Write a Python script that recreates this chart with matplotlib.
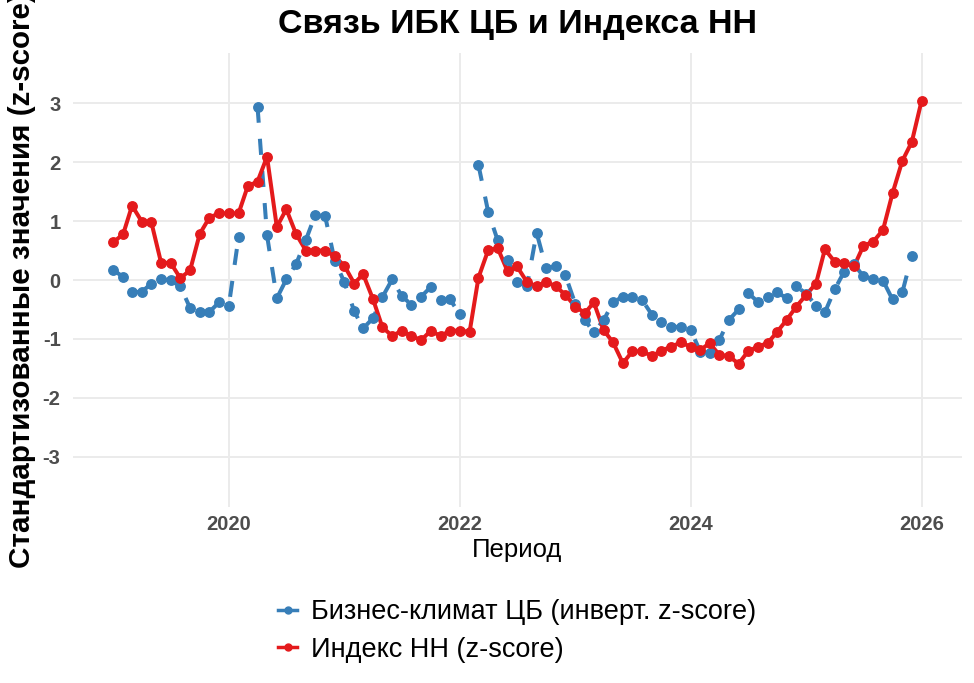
import numpy as np
import pandas as pd
import matplotlib
matplotlib.use("Agg")
import matplotlib.pyplot as plt
import matplotlib.dates as mdates
from matplotlib.lines import Line2D

plt.rcParams['font.family'] = ['Liberation Sans', 'DejaVu Sans']
plt.rcParams['axes.unicode_minus'] = False

# monthly data, Jan 2019 .. Jan 2026
dates = pd.date_range("2019-01-01", periods=85, freq="MS")

nn_index = [
    0.64, 0.78, 1.26, 0.99, 0.98, 0.29, 0.29, 0.03, 0.17, 0.78, 1.06, 1.13,
    1.13, 1.13, 1.59, 1.67, 2.09, 0.90, 1.20, 0.78, 0.50, 0.50, 0.50, 0.40,
    0.24, -0.06, 0.10, -0.32, -0.80, -0.95, -0.86, -0.95, -1.02, -0.86, -0.95, -0.86,
    -0.86, -0.88, 0.04, 0.51, 0.54, 0.15, 0.23, -0.03, -0.11, -0.03, -0.11, -0.25,
    -0.45, -0.56, -0.38, -0.85, -1.06, -1.41, -1.21, -1.21, -1.29, -1.20, -1.13, -1.06,
    -1.13, -1.19, -1.07, -1.27, -1.29, -1.42, -1.21, -1.13, -1.07, -0.88, -0.67, -0.45,
    -0.25, -0.06, 0.52, 0.31, 0.29, 0.23, 0.58, 0.65, 0.85, 1.47, 2.02, 2.34,
    3.04,
]

# business climate (inverted z-score), Jan 2019 .. Dec 2025, gaps = nan
ibk = [
    0.17, 0.05, -0.21, -0.20, -0.06, 0.01, 0.00, -0.11, -0.48, -0.55, -0.54, -0.38,
    -0.44, 0.73, np.nan, 2.94, 0.76, -0.31, 0.01, 0.27, 0.68, 1.11, 1.08, 0.33,
    -0.04, -0.53, -0.82, -0.65, -0.29, 0.01, -0.27, -0.42, -0.28, -0.12, -0.34, -0.33,
    -0.58, np.nan, 1.95, 1.15, 0.67, 0.34, -0.03, -0.11, 0.80, 0.20, 0.24, 0.08,
    -0.40, -0.68, -0.89, -0.68, -0.38, -0.28, -0.29, -0.34, -0.59, -0.72, -0.79, -0.80,
    -0.84, -1.22, -1.23, -1.02, -0.68, -0.50, -0.22, -0.37, -0.29, -0.21, -0.31, -0.11,
    -0.23, -0.44, -0.55, -0.16, 0.14, 0.27, 0.06, 0.02, -0.01, -0.33, -0.21, 0.41,
]

labels = ["Бизнес-климат ЦБ (инверт. z-score)", "Индекс НН (z-score)"]
blue = "#377EB8"
red = "#E41A1C"

W, H = 974, 683
fig = plt.figure(figsize=(W / 100, H / 100), dpi=100)
ax = fig.add_axes([73 / W, 1 - 507 / H, (962 - 73) / W, (507 - 53) / H])

x_nn = mdates.date2num(dates)
x_ibk = x_nn[:len(ibk)]

lw = 2.9
ax.plot(x_ibk, ibk, color=blue, lw=lw, ls=(0, (4, 4)), dash_capstyle='butt', zorder=3)
ax.plot(x_nn, nn_index, color=red, lw=lw, zorder=4)
ax.plot(x_ibk, ibk, 'o', color=blue, ms=6.8, zorder=5)
ax.plot(x_nn, nn_index, 'o', color=red, ms=6.8, zorder=6)

span = x_nn[-1] - x_nn[0]
ax.set_xlim(x_nn[0] - 0.05 * span, x_nn[-1] + 0.05 * span)
ax.set_ylim(-3.85, 3.85)

years = [2020, 2022, 2024, 2026]
ax.set_xticks([mdates.date2num(pd.Timestamp(f"{y}-01-01")) for y in years])
ax.set_xticklabels([str(y) for y in years])
ax.set_yticks(range(-3, 4))

for s in ax.spines.values():
    s.set_visible(False)
ax.grid(True, color="#EBEBEB", lw=1.4)
ax.set_axisbelow(True)
ax.tick_params(length=0, labelsize=14.5, labelcolor="#4D4D4D")
ax.tick_params(axis='y', pad=9)
ax.tick_params(axis='x', pad=6)
for t in ax.get_xticklabels() + ax.get_yticklabels():
    t.set_fontweight('bold')

fig.text(517.5 / W, 1 - 24 / H, "Связь ИБК ЦБ и Индекса НН",
         ha='center', va='center', fontsize=24.5, fontweight='bold')
fig.text(517.5 / W, 1 - 550 / H, "Период", ha='center', va='center', fontsize=18.5)
# the long y label is wider than the figure, cut at the top as in the source
fig.text(22 / W, 1 - 280 / H, "Стандартизованные значения (z-score)",
         rotation=90, ha='center', va='center', fontsize=21.3, fontweight='bold')

handles = [
    Line2D([], [], color=blue, lw=2.5, marker='o', ms=5),
    Line2D([], [], color=red, lw=2.5, marker='o', ms=5),
]
fig.legend(handles, labels, loc='center', bbox_to_anchor=(517 / W, 1 - 631 / H),
           frameon=False, fontsize=19.5, handlelength=0.7, handletextpad=0.5,
           labelspacing=0.42)

fig.savefig("out.png", dpi=100)
